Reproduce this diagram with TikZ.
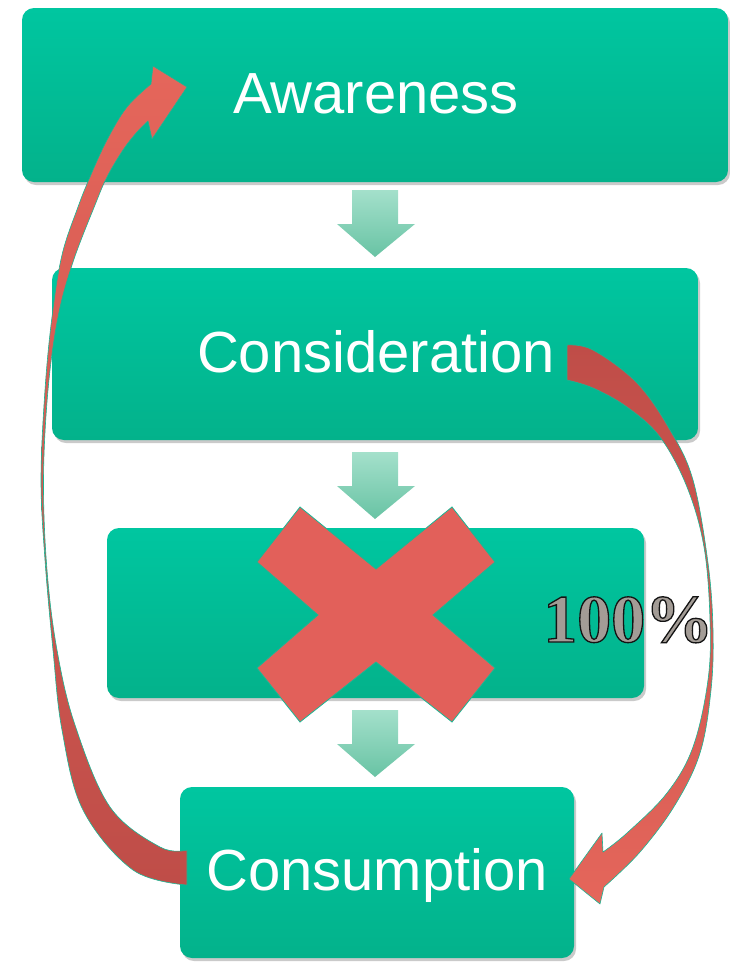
\documentclass[tikz,border=0pt]{standalone}
\usepackage{fontspec}
\setmainfont{Liberation Sans}
\newfontfamily\pctfont{Liberation Serif}
\usetikzlibrary{shadows}
\definecolor{boxtop}{HTML}{00C6A0}
\definecolor{boxbot}{HTML}{03B28B}
\definecolor{mintT}{HTML}{A4E0CB}
\definecolor{mintB}{HTML}{68C3A4}
\definecolor{redL}{HTML}{E5665B}
\definecolor{redD}{HTML}{BF4D48}
\definecolor{xred}{HTML}{E2605A}
\definecolor{edge}{HTML}{19B795}
\definecolor{pctgray}{HTML}{A39C96}
\newcommand{\outlinedtext}[1]{\special{pdf:code 2 Tr 1.3 w 0.08 0.08 0.08 RG}#1\special{pdf:code 0 Tr}}
\tikzset{
  stagebox/.style={rectangle, rounded corners=12pt, top color=boxtop, bottom color=boxbot,
    draw=none, inner sep=0pt,
    drop shadow={opacity=0.35, shadow xshift=2pt, shadow yshift=-3pt, fill=black!60}},
  stagetext/.style={text=white, font=\fontsize{58}{60}\selectfont, anchor=base, inner sep=0pt},
  downarrow/.style={top color=mintT, bottom color=mintB, draw=none},
  curvearrow/.style={draw=edge, line width=0.6pt, line join=round},
}
\begin{document}
\begin{tikzpicture}[x=1pt,y=-1pt]
\useasboundingbox (0,0) rectangle (730,962);
% boxes
\node[stagebox, minimum width=706pt, minimum height=174pt] (aw) at (375,95) {};
\node[stagebox, minimum width=646pt, minimum height=172pt] (co) at (375,354) {};
\node[stagebox, minimum width=537pt, minimum height=170pt] (pu) at (375.5,613) {};
\node[stagebox, minimum width=394pt, minimum height=171pt] (cs) at (377,872.5) {};
\node[stagetext] (awt) at (376,113) {Awareness};
\node[stagetext] (cot) at (376,372) {Consideration};
\node[stagetext] (cst) at (377,890) {Consumption};
% down arrows
\foreach \t in {190,452,710}{
  \path[downarrow] (352,\t) -- (398,\t) -- (398,\t+34) -- (415,\t+34) -- (375,\t+67)
     -- (337,\t+34) -- (352,\t+34) -- cycle;
}
% red X
\path[fill=xred, draw=edge, line width=0.8pt, line join=miter]
  (300,507) -- (376,569) -- (452,507) -- (495,562) -- (433,615) -- (495,668)
  -- (452,722) -- (376,662) -- (300,722) -- (257,668) -- (318,615) -- (257,562) -- cycle;
% 100%
\node[anchor=base west, inner sep=0pt, text=pctgray, font=\pctfont\bfseries\fontsize{68}{70}\selectfont] (pct) at (543,642)
  {\outlinedtext{100\%}};
% right curved arrow: Consideration -> Consumption
\path[curvearrow, top color=redD, bottom color=redL]
  plot[smooth, tension=0.6] coordinates {(567,345) (593,350) (637,383) (670,430) (693,480) (708,563) (713,630) (711,690) (700,753) (675,805) (640,852) (604,887)}
  -- (600,904) -- (569,879) -- (602,833) --
  plot[smooth, tension=0.6] coordinates {(603,852) (627,833) (667,793) (693,747) (708,680) (710,620) (704,547) (687,487) (660,437) (627,407) (593,388) (567,380)}
  -- cycle;
% left curved arrow: Consumption -> Awareness
\path[curvearrow, top color=redL, bottom color=redD]
  plot[smooth, tension=0.6] coordinates {(187,885) (133,870) (83,810) (62,730) (53,650) (45,560) (41,480) (45,390) (52,317) (62,255) (78,207) (90,177) (107,140) (127,107) (151,84)}
  -- (153,66) -- (187,87) -- (152,139) --
  plot[smooth, tension=0.6] coordinates {(148,121) (137,132) (123,150) (107,177) (95,205) (73,262) (58,317) (48,390) (43.5,480) (47,570) (57,650) (75,725) (110,807) (160,847) (187,850)}
  -- cycle;
\end{tikzpicture}
\end{document}
